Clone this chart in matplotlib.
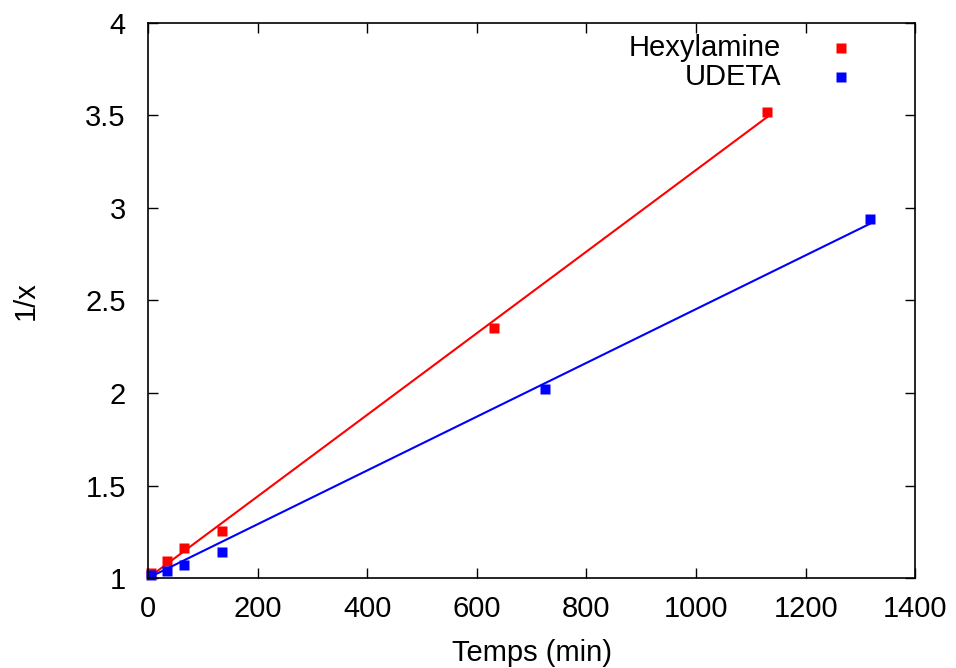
import numpy as np
import matplotlib.pyplot as plt
from matplotlib.ticker import FormatStrFormatter, MultipleLocator

plt.rcParams['font.family'] = ['Liberation Sans', 'DejaVu Sans']

# Hexylamine
t_hex = np.array([5, 35, 65, 135, 632, 1130])
inv_hex = np.array([1.025, 1.094, 1.161, 1.253, 2.35, 3.52])
# UDETA
t_ude = np.array([5, 35, 65, 135, 725, 1317])
inv_ude = np.array([1.016, 1.04, 1.07, 1.14, 2.02, 2.94])

labels = ['Hexylamine', 'UDETA']
colors = ['#ff0000', '#0000ff']


def fit_k(t, y):
    # 1/x = 1 + k t
    return np.sum(t * (y - 1)) / np.sum(t ** 2)


fig = plt.figure(figsize=(9.56, 6.68), dpi=100)
ax = fig.add_axes([0.1548, 0.1347, 0.8025, 0.8309])

for i, (t, y) in enumerate([(t_hex, inv_hex), (t_ude, inv_ude)]):
    k = fit_k(t, y)
    tt = np.array([0, t.max()])
    ax.plot(tt, 1 + k * tt, color=colors[i], lw=1.5)
    ax.plot(t, y, 's', color=colors[i], ms=6.5, mec='none', clip_on=False)
    # legend entry, gnuplot style
    ax.text(0.825, 0.955 - i * 0.052, labels[i], transform=ax.transAxes,
            ha='right', va='center', fontsize=21)
    ax.plot([0.903], [0.955 - i * 0.052], 's', color=colors[i], ms=6.5,
            mec='none', transform=ax.transAxes)

ax.set_xlim(0, 1400)
ax.set_ylim(1, 4)
ax.xaxis.set_major_locator(MultipleLocator(200))
ax.yaxis.set_major_locator(MultipleLocator(0.5))
ax.yaxis.set_major_formatter(FormatStrFormatter('%g'))
ax.tick_params(direction='in', length=7, width=1, top=True, right=True,
               labelsize=21)
ax.tick_params(axis='x', pad=12)
ax.tick_params(axis='y', pad=16)
for s in ax.spines.values():
    s.set_linewidth(1.2)

ax.set_xlabel('Temps (min)', fontsize=21, labelpad=12)
ax.set_ylabel('1/x', fontsize=21, labelpad=33)

fig.savefig('out.png', dpi=100)
